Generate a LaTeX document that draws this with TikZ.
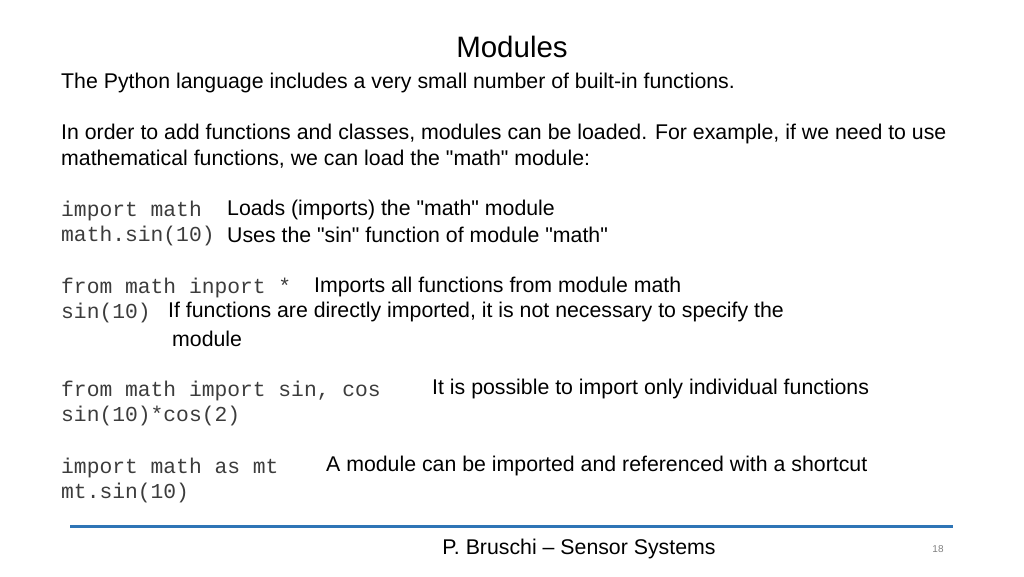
\documentclass[tikz,border=0pt]{standalone}
\usepackage{fontspec}
\setmainfont{Liberation Sans}
\setmonofont{Liberation Mono}
\usetikzlibrary{positioning}
\definecolor{barblue}{RGB}{46,117,182}
\definecolor{codegray}{RGB}{60,60,60}
\newcommand{\qt}[1]{\textquotedbl#1\textquotedbl}
\tikzset{
  body/.style={anchor=west, inner sep=0pt, font=\fontsize{21.3}{25}\selectfont},
  code/.style={anchor=west, inner sep=0pt, text=codegray, font=\ttfamily\fontsize{21.3}{25}\selectfont}
}
\begin{document}
\begin{tikzpicture}[x=1pt, y=-1pt]
    \useasboundingbox (0,0) rectangle (1024,576);

    \node[inner sep=0pt, font=\fontsize{29.5}{34}\selectfont] (title) at (512,47) {Modules};

    \node[body] (intro) at (61,83) {The Python language includes a very small number of built-in functions.};
    \node[body] (order1) at (61,134) {In order to add functions and classes, modules can be loaded. For example, if we need to use};
    \node[body] (order2) at (61,159) {mathematical functions, we can load the \qt{math} module:};

    % import math
    \node[code] (c1) at (61,211) {import math};
    \node[body] (t1) at (227,210) {Loads (imports) the \qt{math} module};
    \node[code] (c2) at (61,236) {math.sin(10)};
    \node[body] (t2) at (227,235) {Uses the \qt{sin} function of module \qt{math}};

    % from math inport *
    \node[code] (c3) at (61,288) {from math inport *};
    \node[body] (t3) at (314,287) {Imports all functions from module math};
    \node[code] (c4) at (61,313) {sin(10)};
    \node[body] (t4) at (168,312) {If functions are directly imported, it is not necessary to specify the};
    \node[body] (t4b) at (172,339) {module};

    % individual functions
    \node[code] (c5) at (61,391) {from math import sin, cos};
    \node[body] (t5) at (432,389) {It is possible to import only individual functions};
    \node[code] (c6) at (61,416) {sin(10)*cos(2)};

    % shortcut
    \node[code] (c7) at (61,468) {import math as mt};
    \node[body] (t7) at (326,466) {A module can be imported and referenced with a shortcut};
    \node[code] (c8) at (61,493) {mt.sin(10)};

    \coordinate (barl) at (70,526);
    \coordinate (barr) at (953,526);
    \draw[barblue, line width=3pt] (barl) -- (barr);

    \node[inner sep=0pt, font=\fontsize{21.3}{25}\selectfont] (footer) at (579,549) {P. Bruschi – Sensor Systems};
    \node[inner sep=0pt, text=gray, font=\fontsize{10}{12}\selectfont] (page) at (938,549) {18};
\end{tikzpicture}
\end{document}
